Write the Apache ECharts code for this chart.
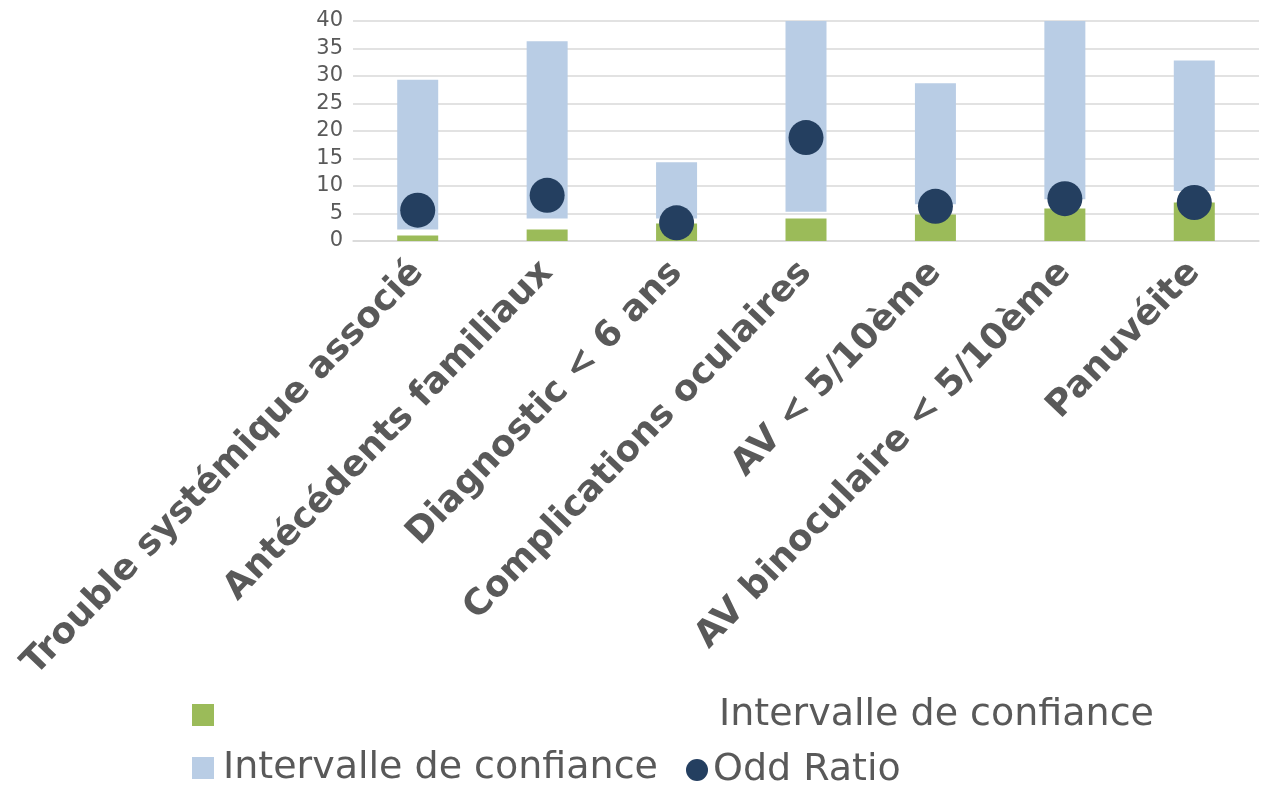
<!DOCTYPE html>
<html>
<head>
<meta charset="utf-8">
<script src="https://cdn.jsdelivr.net/npm/echarts@6/dist/echarts.min.js"></script>
<style>
html,body{margin:0;padding:0;background:#fff;}
#chart{width:1263px;height:787px;}
</style>
</head>
<body>
<div id="chart"></div>
<script>
const categories = ['Trouble systémique associé','Antécédents familiaux','Diagnostic < 6 ans','Complications oculaires','AV < 5/10ème','AV binoculaire < 5/10ème','Panuvéite'];
const baseValues = [1.0, 2.1, 3.2, 4.1, 4.8, 5.9, 7.0];
const ciLower = [2.1, 4.1, 4.1, 5.3, 6.7, 7.6, 9.1];
const ciUpper = [29.3, 36.3, 14.3, 40, 28.7, 40, 32.8];
const oddRatio = [5.6, 8.3, 3.3, 18.8, 6.3, 7.7, 7.0];
const yTicks = {min: 0, max: 40, interval: 5};

const gapValues = ciLower.map((v, i) => +(v - baseValues[i]).toFixed(2));
const spanValues = ciUpper.map((v, i) => +(v - ciLower[i]).toFixed(2));

const FONT = 'DejaVu Sans';
const TXT = '#595959';
const legendText = {fontFamily: FONT, fontSize: 38, color: TXT, padding: [0, 0, 0, 4]};
const legendBase = {padding: 0, itemWidth: 22, itemHeight: 22, itemGap: 0, selectedMode: false, textStyle: legendText};

const chart = echarts.init(document.getElementById('chart'));
chart.setOption({
  animation: false,
  grid: {left: 353, right: 4, top: 21, bottom: 546},
  legend: [
    Object.assign({data: [{name: ' ', icon: 'rect'}], left: 192, top: 696}, legendBase),
    Object.assign({data: [{name: 'Intervalle de confiance', icon: 'rect'}], left: 688, top: 696}, legendBase),
    Object.assign({data: [{name: 'Intervalle de confiance ', icon: 'rect'}], left: 192, top: 749}, legendBase),
    Object.assign({data: [{name: 'Odd Ratio', icon: 'circle'}], left: 686, top: 751}, legendBase, {textStyle: Object.assign({}, legendText, {padding: [0, 0, 0, 0]})})
  ],
  xAxis: {
    type: 'category',
    data: categories,
    axisLine: {show: true, lineStyle: {color: '#d9d9d9', width: 1.5}},
    axisTick: {show: false},
    axisLabel: {
      rotate: 46, interval: 0, margin: 26,
      fontFamily: FONT, fontWeight: 'bold', fontSize: 36, color: TXT
    }
  },
  yAxis: {
    type: 'value',
    min: yTicks.min, max: yTicks.max, interval: yTicks.interval,
    axisLine: {show: false},
    axisTick: {show: false},
    splitLine: {lineStyle: {color: '#d9d9d9', width: 1.5}},
    axisLabel: {fontFamily: FONT, fontSize: 21, color: TXT, margin: 10}
  },
  series: [
    {name: ' ', type: 'bar', stack: 'ci', barWidth: 41, data: baseValues, itemStyle: {color: '#9BBB59'}},
    {name: 'Intervalle de confiance', type: 'bar', stack: 'ci', barWidth: 41, data: gapValues, itemStyle: {color: 'rgba(0,0,0,0)'}},
    {name: 'Intervalle de confiance ', type: 'bar', stack: 'ci', barWidth: 41, data: spanValues, itemStyle: {color: '#B9CDE5'}},
    {name: 'Odd Ratio', type: 'scatter', symbol: 'circle', symbolSize: 35, data: oddRatio, itemStyle: {color: '#243F60', opacity: 1}, z: 5}
  ]
});
</script>
</body>
</html>
